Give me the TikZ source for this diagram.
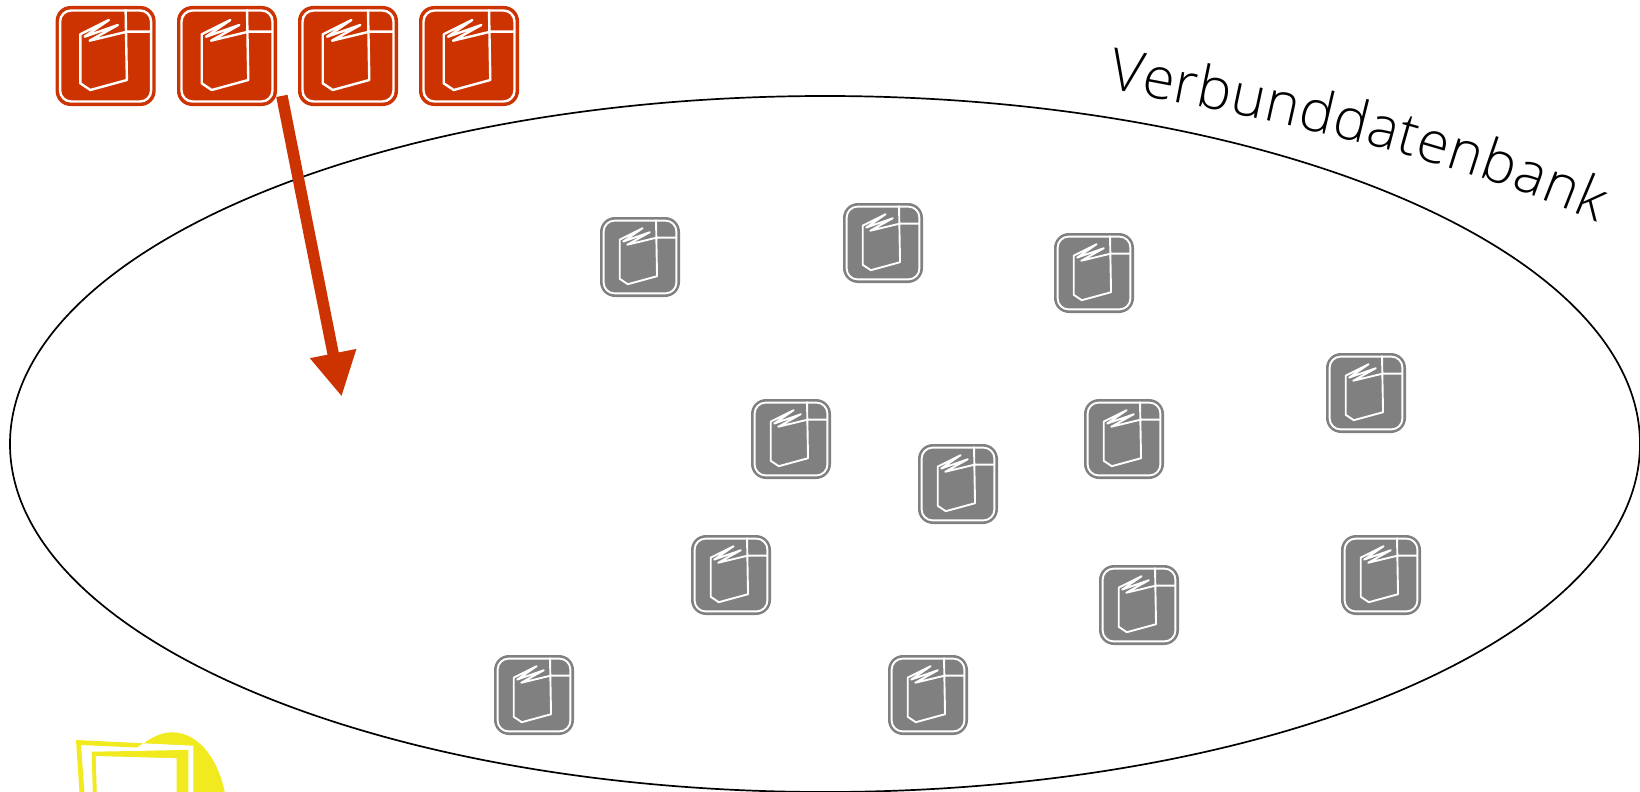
\documentclass[tikz,border=0pt]{standalone}
\usepackage{fontspec}
\usepackage{xcolor}
\setmainfont{Open Sans Light}
\usetikzlibrary{arrows.meta,decorations.text,shapes.geometric}

\definecolor{bookred}{HTML}{CC3300}
\definecolor{bookgray}{HTML}{808080}
\definecolor{bookyellow}{HTML}{F0EA1E}

\tikzset{
    bookbox/.style={draw=none, rounded corners=15bp, minimum size=100bp, inner sep=0pt, transform shape},
    bookline/.style={draw=white, line width=#1},
    pics/bookicon/.style 2 args={
        code={
            \node[bookbox, fill=#1] (-box) at (0, 0) {};
            \draw[bookline=#2, rounded corners=11bp] (-45.5, -45.5) rectangle (45.5, 45.5);
            \draw[bookline=#2, line join=round] (20, -46.7) -- (21.3, 24) -- (-15.3, 34) -- (-25.3, 27.3) -- (-25.3, -21.7) -- (3.3, -36) -- (-21, -19.3) -- (12.3, -31) -- (-16, -15.3) -- (21.3, -24.3) -- (45.7, -24.3);
        }
    }
}

\begin{document}
\begin{tikzpicture}[x=1bp, y=-1bp]
    \useasboundingbox (0, 0) rectangle (1640, 792);

    \begin{scope}
        \clip (0, 0) rectangle (1640, 792);

        % Verbund
        \node[draw=black, line width=1.7bp, ellipse, minimum width=1630bp, minimum height=696bp, inner sep=0pt] (verbund) at (825, 444) {};

        % yellow stack
        \fill[bookyellow] (91.7, 751.7) -- (135, 751) .. controls (147, 739) and (160, 732.3) .. (172, 732.3) .. controls (203, 732.3) and (222, 768) .. (226, 800) -- (93, 800) -- cycle;
        \fill[white] (95.7, 756) -- (176.7, 758.3) -- (176.7, 800) -- (97, 800) -- cycle;
        \fill[white] (137, 747.5) -- (143, 743.3) -- (193.3, 745.7) -- (193.3, 800) -- (188.3, 800) -- (188.3, 749.7) -- (135, 751) -- cycle;
        \fill[bookyellow] (76, 740) -- (143, 743.3) -- (137, 747.5) -- (81, 745) -- (85, 800) -- (80, 800) -- cycle;
    \end{scope}

    \foreach \name/\x in {red1/105.6, red2/227, red3/348, red4/469}
        \pic (\name) at (\x, 56) {bookicon={bookred}{2.4bp}};

    \foreach \name/\x/\y in {g1/640/257, g2/883/243, g3/1094/273, g4/1366/393, g5/791/439, g6/1124/439, g7/958/484, g8/731/575, g9/1139/605, g10/1381/575, g11/534/695, g12/928/695}
        \pic[scale=0.8] (\name) at (\x, \y) {bookicon={bookgray}{1.9bp}};

    \draw[bookred, line width=11.5bp, -{Triangle[length=44bp, width=44bp]}] ([shift={(4.7, -10.3)}]red2-box.south east) -- (341.7, 396.7);

    \path[decorate, decoration={text along path, text align=fit to path, text={|\fontsize{58}{60}\selectfont|Verbunddatenbank}}] (1107, 89) .. controls (1280, 120) and (1450, 158) .. (1597, 222);
\end{tikzpicture}
\end{document}
